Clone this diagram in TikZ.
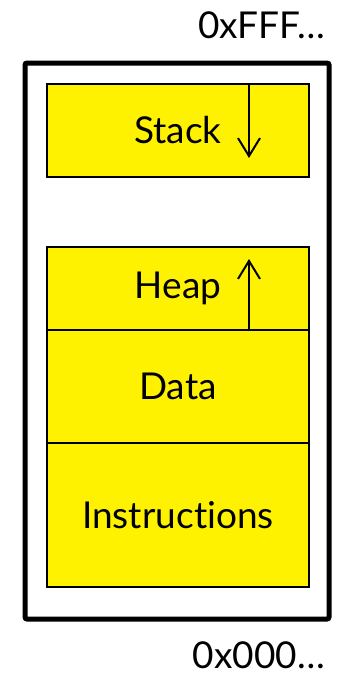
\documentclass[tikz,border=0pt]{standalone}
\usepackage{fontspec}
\setmainfont{Lato}[Ligatures=NoCommon]
\usetikzlibrary{positioning, arrows.meta}

\begin{document}
\begin{tikzpicture}[x=1pt, y=-1pt,
    segment/.style={draw, line width=1.5pt, fill=yellow, minimum width=262pt,
        inner sep=0pt, outer sep=0pt, font=\fontsize{37}{44}\selectfont},
    addr/.style={font=\fontsize{37}{44}\selectfont, inner sep=0pt},
    growarrow/.style={line width=2pt, -{Straight Barb[length=18pt, width=22pt, line width=2pt]}}]
\useasboundingbox (0,0) rectangle (341,675);

% address space
\node[draw, line width=5pt, rounded corners=2pt, minimum width=304pt,
    minimum height=556pt, inner sep=0pt] (mem) at (177,341) {};

\node[segment, minimum height=93pt] (stack) at (178,130.5) {Stack};
\node[segment, minimum height=83pt] (heap) at (178,288.5) {Heap};
\node[segment, minimum height=113pt, below=0pt of heap] (data) {Data};
\node[segment, minimum height=144pt, below=0pt of data] (instr) {Instructions};

% growth directions
\coordinate (stacktip) at (249,158);
\coordinate (heaptip) at (249,259);
\draw[growarrow] (stack.north -| stacktip) -- (stacktip);
\draw[growarrow] (heap.south -| heaptip) -- (heaptip);

\node[addr, anchor=base east] (high) at (325,38) {0xFFF…};
\node[addr, anchor=base east] (low) at (325,668) {0x000…};
\end{tikzpicture}
\end{document}
